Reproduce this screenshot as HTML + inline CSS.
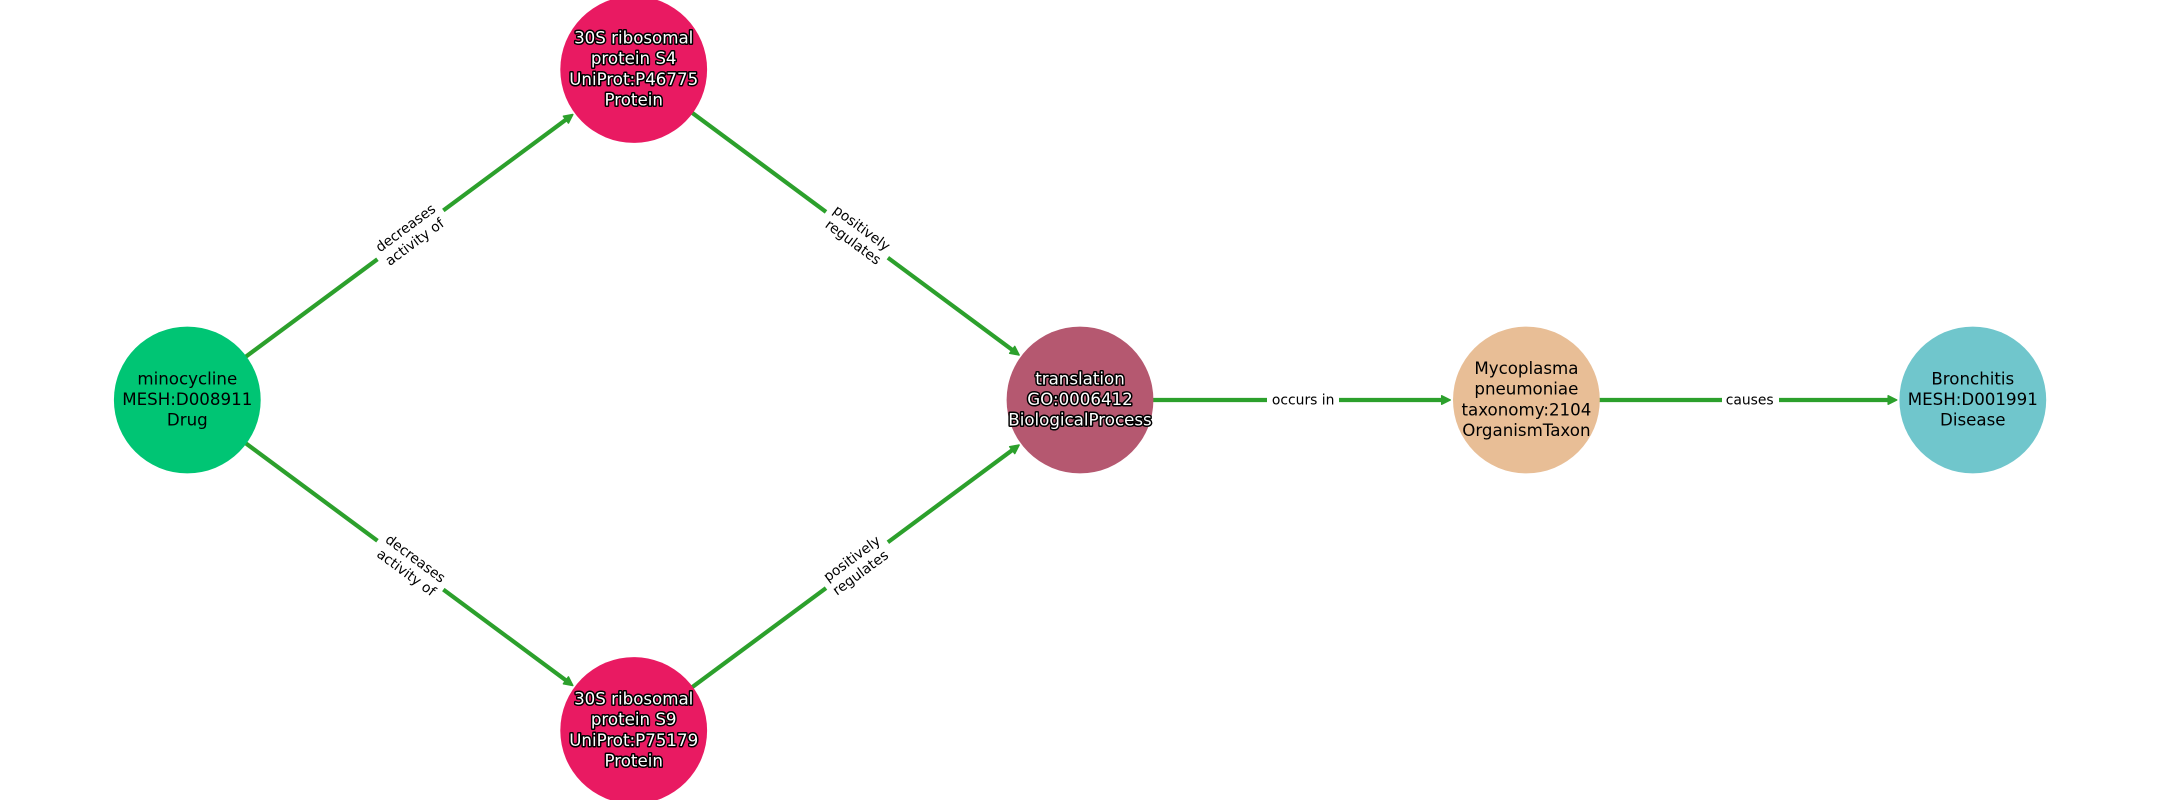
<!DOCTYPE html>
<html><head><meta charset="utf-8"><style>
html,body{margin:0;padding:0;background:#fff}
svg{display:block}
text{font-family:"DejaVu Sans","Liberation Sans",sans-serif;text-anchor:middle}
.n{font-size:16.67px;fill:#000}
.h{font-size:16.67px;fill:#fff;stroke:#000;stroke-width:3px;paint-order:stroke;stroke-linejoin:round}
.e{font-size:13.89px;fill:#000}
.l{stroke:#2ca02c;stroke-width:4.2;fill:none}
.a{fill:#2ca02c;stroke:#2ca02c;stroke-width:1.5;stroke-linejoin:round}
</style></head><body>
<svg width="2160" height="800" viewBox="0 0 2160 800" xmlns="http://www.w3.org/2000/svg">
<rect width="2160" height="800" fill="#fff"/>
<g>
<line class="l" x1="187.3" y1="400" x2="569.4" y2="117.1"/>
<line class="l" x1="187.3" y1="400" x2="569.4" y2="682.9"/>
<line class="l" x1="633.7" y1="69.5" x2="1015.7" y2="352.4"/>
<line class="l" x1="633.7" y1="730.5" x2="1015.7" y2="447.6"/>
<line class="l" x1="1080" y1="400" x2="1445" y2="400"/>
<line class="l" x1="1526.4" y1="400" x2="1891.5" y2="400"/>
</g>
<g fill="#fff">
<rect x="369.5" y="210" width="82" height="50" transform="rotate(-36.5 410.5 235)"/>
<rect x="369.5" y="540" width="82" height="50" transform="rotate(36.5 410.5 565)"/>
<rect x="818.3" y="210" width="77" height="50" transform="rotate(36.5 856.8 235)"/>
<rect x="818.3" y="540" width="77" height="50" transform="rotate(-36.5 856.8 565)"/>
<rect x="1267" y="385" width="72" height="30"/>
<rect x="1722" y="385" width="57" height="30"/>
</g>
<g class="a">
<polygon points="-0.75,0 -9.3,-4.25 -9.3,4.25" transform="translate(573.4 114.1) rotate(-36.5)"/>
<polygon points="-0.75,0 -9.3,-4.25 -9.3,4.25" transform="translate(573.4 685.9) rotate(36.5)"/>
<polygon points="-0.75,0 -9.3,-4.25 -9.3,4.25" transform="translate(1019.7 355.4) rotate(36.5)"/>
<polygon points="-0.75,0 -9.3,-4.25 -9.3,4.25" transform="translate(1019.7 444.6) rotate(-36.5)"/>
<polygon points="-0.75,0 -9.3,-4.25 -9.3,4.25" transform="translate(1451 400)"/>
<polygon points="-0.75,0 -9.3,-4.25 -9.3,4.25" transform="translate(1897.5 400)"/>
</g>
<circle cx="187.3" cy="400" r="73.4" fill="#00c574"/>
<circle cx="633.7" cy="69.5" r="73.4" fill="#e91a62"/>
<circle cx="633.7" cy="730.5" r="73.4" fill="#e91a62"/>
<circle cx="1080" cy="400" r="73.4" fill="#b55870"/>
<circle cx="1526.4" cy="400" r="73.4" fill="#e8be96"/>
<circle cx="1972.8" cy="400" r="73.4" fill="#70c6cc"/>
<text class="n" x="187.3" y="384.3">minocycline</text>
<text class="n" x="187.3" y="405">MESH:D008911</text>
<text class="n" x="187.3" y="425.7">Drug</text>
<text class="h" x="633.7" y="43.4">30S ribosomal</text>
<text class="h" x="633.7" y="64.1">protein S4</text>
<text class="h" x="633.7" y="84.8">UniProt:P46775</text>
<text class="h" x="633.7" y="105.6">Protein</text>
<text class="h" x="633.7" y="704.4">30S ribosomal</text>
<text class="h" x="633.7" y="725.1">protein S9</text>
<text class="h" x="633.7" y="745.8">UniProt:P75179</text>
<text class="h" x="633.7" y="766.6">Protein</text>
<text class="h" x="1080" y="384.3">translation</text>
<text class="h" x="1080" y="405">GO:0006412</text>
<text class="h" x="1080" y="425.7">BiologicalProcess</text>
<text class="n" x="1526.4" y="374">Mycoplasma</text>
<text class="n" x="1526.4" y="394.7">pneumoniae</text>
<text class="n" x="1526.4" y="415.4">taxonomy:2104</text>
<text class="n" x="1526.4" y="436.1">OrganismTaxon</text>
<text class="n" x="1972.8" y="384.3">Bronchitis</text>
<text class="n" x="1972.8" y="405">MESH:D001991</text>
<text class="n" x="1972.8" y="425.7">Disease</text>
<g class="e">
<g transform="translate(410.5 234.7) rotate(-36.5)"><text y="-3.7">decreases</text><text x="-1" y="13">activity of</text></g>
<g transform="translate(410.5 565.3) rotate(36.5)"><text y="-3.7">decreases</text><text x="1" y="13">activity of</text></g>
<g transform="translate(856.8 234.7) rotate(36.5)"><text y="-3.7">positively</text><text x="1.5" y="12.8">regulates</text></g>
<g transform="translate(856.8 565.3) rotate(-36.5)"><text y="-3.7">positively</text><text x="-1.5" y="12.8">regulates</text></g>
<text x="1303.2" y="404.5">occurs in</text>
<text x="1749.7" y="404.5">causes</text>
</g>
</svg>
</body></html>
